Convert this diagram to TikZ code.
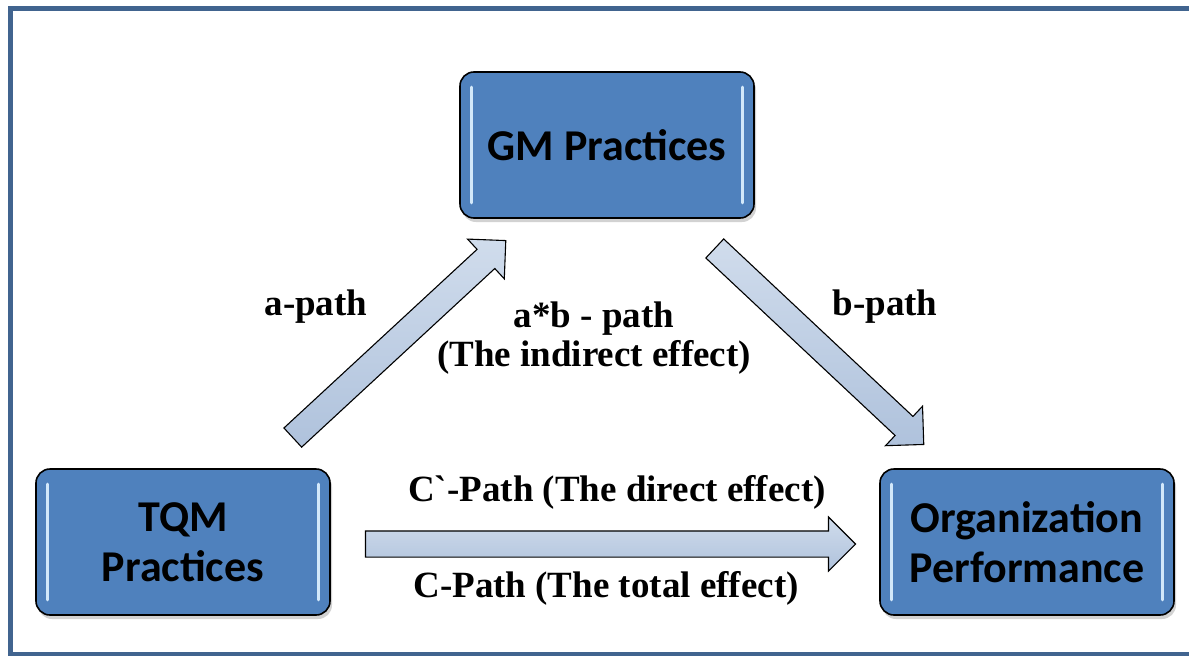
\documentclass[tikz,border=0pt]{standalone}
\usepackage{fontspec}
\setmainfont{Liberation Serif}
\newfontfamily\boxfont{Carlito}
\usetikzlibrary{shapes.arrows,shadows,calc}
\definecolor{framecol}{HTML}{41648F}
\definecolor{boxfill}{HTML}{4F81BD}
\definecolor{arrtop}{HTML}{D0DCEC}
\definecolor{arrbot}{HTML}{AFC2DC}
\definecolor{hlcol}{HTML}{D2E8FA}
\tikzset{
  x=1pt, y=-1pt,
  framestyle/.style={draw=framecol, line width=5pt},
  boxstyle/.style={draw=black, line width=1.6pt, fill=boxfill, rounded corners=14pt,
    minimum width=294pt, minimum height=146pt, align=center, inner sep=0pt,
    font=\boxfont\bfseries\fontsize{44}{50}\selectfont,
    drop shadow={shadow xshift=2pt, shadow yshift=-4pt, opacity=0.35}},
  hl/.style={draw=hlcol, line width=3pt, line cap=round},
  blockarrow/.style={single arrow, draw=black, line width=1.1pt,
    top color=arrtop, bottom color=arrbot,
    inner xsep=0pt, inner ysep=12.5pt, single arrow head extend=14pt,
    single arrow tip angle=90, single arrow head indent=0pt, minimum width=0pt},
  lbl/.style={font=\bfseries\fontsize{37}{39}\selectfont, align=center, inner sep=0pt}
}
\begin{document}
\begin{tikzpicture}
\useasboundingbox (0,0) rectangle (1189,656);
\fill[white] (0,0) rectangle (1189,656);
\draw[framestyle] (1200,8) -- (10,8) -- (10,654) -- (1200,654);

% boxes
\node[boxstyle] (gm) at (607,145) {GM Practices};
\node[boxstyle] (tqm) at (183,542) {TQM\\Practices};
\node[boxstyle] (org) at (1027,542) {Organization\\Performance};

\foreach \b in {gm,tqm,org}{
  \draw[hl] ([xshift=12pt,yshift=-16pt]\b.north west) -- ([xshift=12pt,yshift=16pt]\b.south west);
  \draw[hl] ([xshift=-12pt,yshift=-16pt]\b.north east) -- ([xshift=-12pt,yshift=16pt]\b.south east);
}

% arrow end points
\coordinate (aT) at (288,442);
\coordinate (aH) at (501,245);
\coordinate (bT) at (710,244);
\coordinate (bH) at (919,440);
\coordinate (cT) at (359,544);
\coordinate (cH) at (849,544);

\foreach \tt/\hh/\nm in {aT/aH/arrA, bT/bH/arrB, cT/cH/arrC}{
  \path let \p1=($(\hh)-(\tt)$), \n1={atan2(\y1,\x1)}, \n2={veclen(\x1,\y1)} in
    node[blockarrow, minimum height={\n2*1pt}, rotate=\n1] (\nm) at ($(\tt)!0.5!(\hh)$) {};
}

% labels
\node[lbl] (la) at (316,307) {a-path};
\node[lbl] (lab) at (594,338) {a*b - path\\(The indirect effect)};
\node[lbl] (lb) at (885,307) {b-path};
\node[lbl] (lc1) at (617,492) {C\textasciigrave-Path (The direct effect)};
\node[lbl] (lc2) at (606,588) {C-Path (The total effect)};
\end{tikzpicture}
\end{document}
